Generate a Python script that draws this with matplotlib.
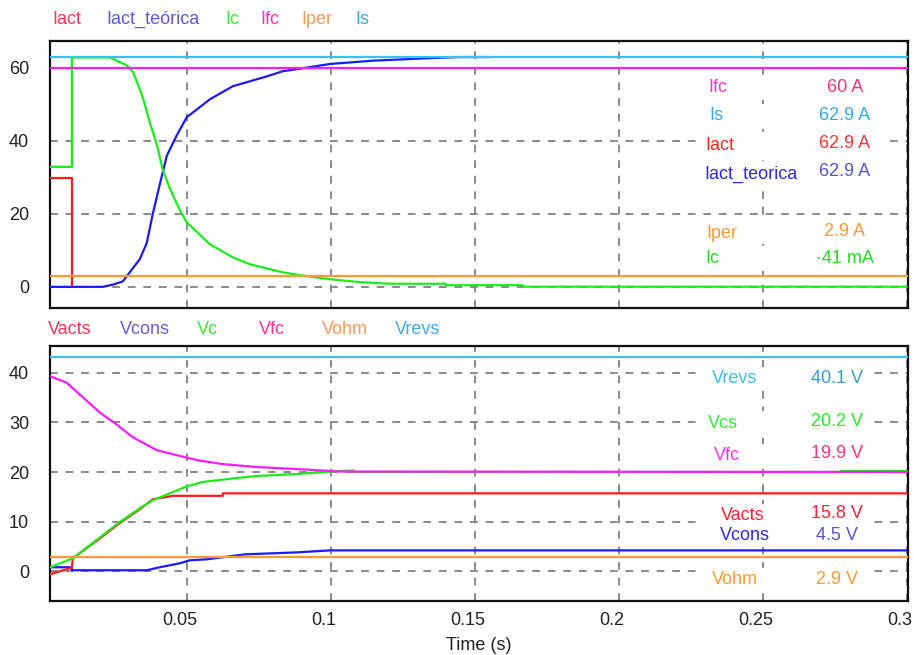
import matplotlib
matplotlib.use('Agg')
import matplotlib.pyplot as plt
import matplotlib.transforms as mtransforms
from matplotlib.patches import Rectangle

plt.rcParams['font.family'] = ['Liberation Sans', 'DejaVu Sans']

W, H = 914, 655

# ---- top panel: currents (A) ----
t_iact = [0.0025, 0.0101, 0.0101]
iact = [29.9, 29.9, 0.0]

t_teo = [0.0025, 0.0208, 0.0243, 0.0278, 0.0302, 0.0337, 0.0361, 0.0382, 0.0406,
         0.0431, 0.0465, 0.05, 0.058, 0.066, 0.0778, 0.0833, 0.0892, 0.0997,
         0.1146, 0.1344, 0.1448, 0.155]
iact_teo = [0.0, 0.0, 0.6, 1.5, 4.0, 7.6, 12.0, 20.0, 28.0, 36.0, 41.5, 46.5,
            51.4, 55.0, 57.7, 59.1, 59.8, 61.1, 62.0, 62.7, 63.0, 63.0]

t_ic = [0.0025, 0.0101, 0.0101, 0.0233, 0.0257, 0.0292, 0.0313, 0.0347, 0.0372,
        0.0396, 0.0417, 0.0441, 0.0476, 0.05, 0.058, 0.066, 0.0719, 0.0833,
        0.0892, 0.0997, 0.1101, 0.1205, 0.14, 0.14, 0.1667, 0.1667, 0.3]
ic = [32.9, 32.9, 62.9, 62.9, 62.0, 60.7, 59.0, 52.0, 45.0, 39.0, 32.0, 27.0,
      21.0, 17.7, 11.7, 8.1, 6.2, 4.0, 3.2, 2.1, 1.3, 0.85, 0.85, 0.45, 0.45,
      0.04, 0.04]

ifc = 60.0
i_s = 62.9
iper = 2.85

top_names = ['Iact', 'Iact_teórica', 'Ic', 'Ifc', 'Iper', 'Is']
top_meas_names = ['Ifc', 'Is', 'Iact', 'Iact_teorica', 'Iper', 'Ic']
top_meas_vals = ['60 A', '62.9 A', '62.9 A', '62.9 A', '2.9 A', '·41 mA']

# ---- bottom panel: voltages (V) ----
t_vfc = [0.0025, 0.0083, 0.0198, 0.0256, 0.0313, 0.0396, 0.0465, 0.0535, 0.0625,
         0.0743, 0.0882, 0.103, 0.3]
vfc = [39.3, 38.0, 32.0, 29.6, 27.0, 24.4, 23.4, 22.4, 21.6, 21.0, 20.6, 20.1, 20.0]

t_vc = [0.0025, 0.0104, 0.0198, 0.0267, 0.0337, 0.0382, 0.0441, 0.05, 0.0556,
        0.066, 0.0743, 0.0882, 0.103, 0.108, 0.108, 0.277, 0.277, 0.3]
vc = [0.8, 2.6, 6.8, 9.9, 12.7, 14.3, 15.7, 17.1, 18.0, 18.7, 19.2, 19.6, 20.2,
      20.3, 20.0, 20.0, 20.2, 20.2]

t_vacts = [0.0025, 0.0101, 0.0104, 0.0198, 0.0267, 0.0337, 0.0382, 0.0451, 0.0625,
           0.0625, 0.3]
vacts = [-0.6, 0.7, 2.6, 6.6, 9.7, 12.5, 14.5, 15.2, 15.2, 15.7, 15.7]

t_vcons = [0.0025, 0.0101, 0.0101, 0.0361, 0.0406, 0.0476, 0.051, 0.0569, 0.0649,
           0.0701, 0.0882, 0.0997, 0.3]
vcons = [0.8, 0.8, 0.2, 0.2, 0.8, 1.6, 2.2, 2.4, 3.0, 3.4, 3.8, 4.2, 4.2]

vohm = 2.9
vrevs = 43.1

bot_names = ['Vacts', 'Vcons', 'Vc', 'Vfc', 'Vohm', 'Vrevs']
bot_meas_names = ['Vrevs', 'Vcs', 'Vfc', 'Vacts', 'Vcons', 'Vohm']
bot_meas_vals = ['40.1 V', '20.2 V', '19.9 V', '15.8 V', '4.5 V', '2.9 V']

xticks = [0.05, 0.1, 0.15, 0.2, 0.25, 0.3]
xticklabels = ['0.05', '0.1', '0.15', '0.2', '0.25', '0.3']

# colours
RED, BLUE, GREEN = '#ff1a1a', '#1a1aff', '#1aee1a'
MAG, ORANGE, CYAN = '#ff1aff', '#ff9933', '#33c4f2'


def px_axes(fig, left, top, right, bottom):
    return fig.add_axes([left / W, 1 - bottom / H, (right - left) / W, (bottom - top) / H])


def style(ax, yticks):
    ax.set_xlim(0.0025, 0.3005)
    ax.set_xticks(xticks)
    ax.set_yticks(yticks)
    ax.set_axisbelow(True)
    ax.grid(True, color='#8a8a8a', linestyle=(0, (4, 4)), linewidth=1.4)
    ax.tick_params(length=0, labelsize=13, labelcolor='#222222')
    ax.tick_params(axis='y', pad=15)
    ax.tick_params(axis='x', pad=8)
    for s in ax.spines.values():
        s.set_linewidth(1.6)
        s.set_color('#111111')


def ftext(fig, x, y, s, color, **kw):
    fig.text(x / W, 1 - y / H, s, color=color, fontsize=13, va='center', **kw)


def white_row(ax, fig, x0, x1, y, h=24):
    r = Rectangle((x0 / W, 1 - (y + h / 2) / H), (x1 - x0) / W, h / H,
                  transform=fig.transFigure, facecolor='white', edgecolor='none',
                  zorder=2)
    ax.add_patch(r)


fig = plt.figure(figsize=(W / 100, H / 100), dpi=100)

# top
ax1 = px_axes(fig, 50, 41, 908, 308)
style(ax1, [0, 20, 40, 60])
ax1.set_ylim(-5.8, 67.4)
ax1.set_xticklabels([])
ax1.plot(t_iact, iact, color=RED, lw=1.6, zorder=3)
ax1.plot(t_teo, iact_teo, color=BLUE, lw=1.6, zorder=3)
ax1.plot(t_ic, ic, color=GREEN, lw=1.6, zorder=3)
ax1.axhline(iper, color=ORANGE, lw=1.6, zorder=4)
ax1.axhline(ifc, color=MAG, lw=1.6, zorder=4)
ax1.axhline(i_s, color=CYAN, lw=1.6, zorder=5)

top_head_colors = ['#ff3355', '#5a5ae0', '#33ee33', '#ff33aa', '#ff9955', '#33aaee']
top_head_x = [67, 153, 232, 270, 317, 362]
for name, c, x in zip(top_names, top_head_colors, top_head_x):
    ftext(fig, x, 19, name, c, ha='center')

top_meas_colors = ['#ff33cc', '#33aaee', '#ff2222', '#2a2aee', '#ff9933', '#22dd22']
top_val_colors = ['#ff3377', '#33aaee', '#ff3333', '#5555cc', '#ff9933', '#22dd22']
top_meas_x = [718, 716, 720, 751, 722, 712]
top_meas_y = [88, 116, 145, 174, 233, 259]
top_val_y = [87, 116, 143, 172, 231, 258]
for n, v, c1, c2, x, y1, y2 in zip(top_meas_names, top_meas_vals, top_meas_colors,
                                   top_val_colors, top_meas_x, top_meas_y, top_val_y):
    white_row(ax1, fig, 700, 886, (y1 + y2) / 2)
    ftext(fig, x, y1, n, c1, ha='center')
    ftext(fig, 845, y2, v, c2, ha='center')

# bottom
ax2 = px_axes(fig, 50, 346, 908, 601)
style(ax2, [0, 10, 20, 30, 40])
ax2.set_ylim(-6.0, 45.4)
ax2.set_xticklabels(xticklabels)
shift = mtransforms.ScaledTranslation(-7 / 100, 0, fig.dpi_scale_trans)
for lab in ax2.get_xticklabels():
    lab.set_transform(lab.get_transform() + shift)
ax2.plot(t_vcons, vcons, color=BLUE, lw=1.6, zorder=3)
ax2.plot(t_vacts, vacts, color=RED, lw=1.6, zorder=3)
ax2.plot(t_vc, vc, color=GREEN, lw=1.6, zorder=3)
ax2.plot(t_vfc, vfc, color=MAG, lw=1.6, zorder=4)
ax2.axhline(vohm, color=ORANGE, lw=1.6, zorder=4)
ax2.axhline(vrevs, color=CYAN, lw=1.6, zorder=5)
ax2.set_xlabel('Time (s)', fontsize=13, color='#222222', labelpad=6)

bot_head_colors = ['#ff3355', '#6a5ae0', '#33ee33', '#ff3399', '#ff9955', '#44aaee']
bot_head_x = [70, 145, 207, 272, 345, 418]
for name, c, x in zip(bot_names, bot_head_colors, bot_head_x):
    ftext(fig, x, 330, name, c, ha='center')

bot_meas_colors = ['#44bbee', '#33ee33', '#ff33ee', '#ff2233', '#2a2aee', '#ff9933']
bot_val_colors = ['#3399dd', '#22ee22', '#ff3377', '#ff2233', '#5555cc', '#ff9933']
bot_meas_x = [735, 723, 727, 743, 745, 735]
bot_meas_y = [378, 423, 456, 515, 536, 579]
bot_val_y = [378, 421, 453, 514, 535, 579]
for n, v, c1, c2, x, y1, y2 in zip(bot_meas_names, bot_meas_vals, bot_meas_colors,
                                   bot_val_colors, bot_meas_x, bot_meas_y, bot_val_y):
    white_row(ax2, fig, 697, 870, (y1 + y2) / 2, h=22)
    ftext(fig, x, y1, n, c1, ha='center')
    ftext(fig, 837, y2, v, c2, ha='center')

fig.savefig('out.png', dpi=100)
